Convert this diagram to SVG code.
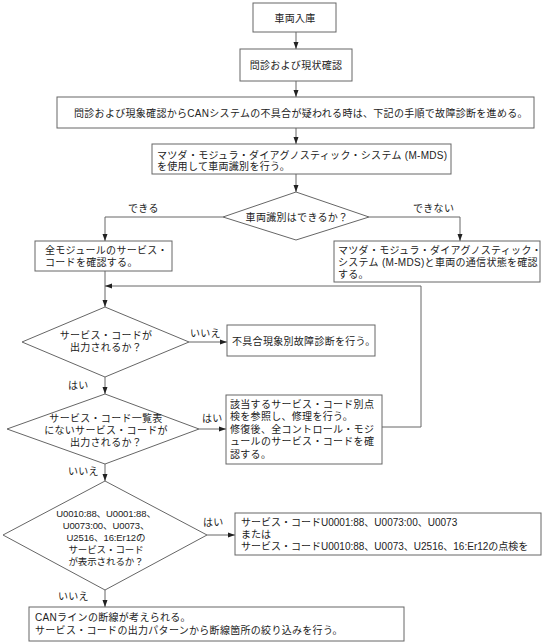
<svg xmlns="http://www.w3.org/2000/svg" width="544" height="644" viewBox="0 0 544 644">
<defs>
<marker id="ah" markerWidth="7" markerHeight="6" refX="7" refY="3" orient="auto" markerUnits="userSpaceOnUse">
<path d="M0,0.5 L7,3 L0,5.5 Z" fill="#222"/>
</marker>
<style>
.box{fill:#fff;stroke:#666;stroke-width:1}
.t{font-family:"Liberation Sans","Noto Sans CJK JP",sans-serif;font-size:10px;fill:#222;letter-spacing:0.3px}
.c{text-anchor:middle}
.n{letter-spacing:0}
.s{font-size:9.5px;letter-spacing:-0.1px}
.ln{fill:none;stroke:#666;stroke-width:1}
.ar{fill:none;stroke:#666;stroke-width:1;marker-end:url(#ah)}
</style>
</defs>
<rect width="544" height="644" fill="#fff"/>
<g id="connectors">
<line class="ar" x1="296" y1="32" x2="296" y2="49"/>
<line class="ar" x1="296" y1="81" x2="296" y2="97"/>
<line class="ar" x1="296" y1="128" x2="296" y2="144"/>
<line class="ar" x1="296" y1="174" x2="296" y2="192"/>
<polyline class="ar" points="223,217 105,217 105,241"/>
<polyline class="ar" points="369,217 460,217 460,241"/>
<line class="ar" x1="105" y1="271" x2="105" y2="307"/>
<polyline class="ar" points="382,427 421,427 421,286 105,286"/>
<line class="ar" x1="189" y1="342" x2="227" y2="342"/>
<line class="ar" x1="105" y1="377" x2="105" y2="394"/>
<line class="ar" x1="199" y1="429" x2="226" y2="429"/>
<line class="ar" x1="105" y1="464" x2="105" y2="481"/>
<line class="ar" x1="207" y1="535" x2="235" y2="535"/>
<line class="ar" x1="105" y1="590" x2="105" y2="607"/>
<text class="t" x="128" y="212">できる</text>
<text class="t" x="413" y="212">できない</text>
<text class="t" x="190" y="337">いいえ</text>
<text class="t" x="68" y="389">はい</text>
<text class="t" x="202" y="422">はい</text>
<text class="t" x="68" y="475">いいえ</text>
<text class="t" x="203" y="526">はい</text>
<text class="t" x="58" y="600">いいえ</text>
</g>
<g id="n1"><rect class="box" x="253" y="3" width="83" height="29"/><text class="t c" x="295" y="22">車両入庫</text></g>
<g id="n2"><rect class="box" x="240" y="49" width="112" height="32"/><text class="t c" x="296" y="69">問診および現状確認</text></g>
<g id="n3"><rect class="box" x="57" y="97" width="477" height="31"/><text class="t" x="74" y="117">問診および現象確認からCANシステムの不具合が疑われる時は、下記の手順で故障診断を進める。</text></g>
<g id="n4"><rect class="box" x="152" y="144" width="299" height="30"/><text class="t" x="157" y="159">マツダ・モジュラ・ダイアグノスティック・システム (M-MDS)</text><text class="t" x="157" y="170">を使用して車両識別を行う。</text></g>
<g id="d1"><polygon class="box" points="296,192 369,217 296,240 223,217"/><text class="t c" x="297" y="221">車両識別はできるか？</text></g>
<g id="n5"><rect class="box" x="35" y="241" width="137" height="30"/><text class="t" x="45" y="254">全モジュールのサービス・</text><text class="t" x="45" y="266">コードを確認する。</text></g>
<g id="n6"><rect class="box" x="334" y="241" width="206" height="41"/><text class="t" x="338" y="254">マツダ・モジュラ・ダイアグノスティック・</text><text class="t" x="338" y="266">システム (M-MDS)と車両の通信状態を確認</text><text class="t" x="338" y="278">する。</text></g>
<g id="d2"><polygon class="box" points="105,307 189,342 105,377 22,342"/><text class="t c" x="106" y="339">サービス・コードが</text><text class="t c" x="106" y="351">出力されるか？</text></g>
<g id="n7"><rect class="box" x="227" y="325" width="148" height="31"/><text class="t" x="232" y="345">不具合現象別故障診断を行う。</text></g>
<g id="d3"><polygon class="box" points="105,394 199,429 105,464 7,429"/><text class="t c" x="106" y="422">サービス・コード一覧表</text><text class="t c" x="106" y="434">にないサービス・コードが</text><text class="t c" x="106" y="446">出力されるか？</text></g>
<g id="n8"><rect class="box" x="226" y="395" width="156" height="69"/><text class="t" x="230" y="408">該当するサービス・コード別点</text><text class="t" x="230" y="420">検を参照し、修理を行う。</text><text class="t" x="230" y="433">修復後、全コントロール・モジ</text><text class="t" x="230" y="445">ュールのサービス・コードを確</text><text class="t" x="230" y="458">認する。</text></g>
<g id="d4"><polygon class="box" points="105,481 207,535 105,590 3,535"/><text class="t c s" x="106" y="517">U0010:88、U0001:88、</text><text class="t c s" x="106" y="529">U0073:00、U0073、</text><text class="t c s" x="106" y="541">U2516、16:Er12の</text><text class="t c s" x="106" y="553">サービス・コード</text><text class="t c s" x="106" y="565">が表示されるか？</text></g>
<g id="n9"><rect class="box" x="235" y="513" width="306" height="42"/><text class="t n" x="241" y="526">サービス・コードU0001:88、U0073:00、U0073</text><text class="t n" x="241" y="538">または</text><text class="t n" x="241" y="550">サービス・コードU0010:88、U0073、U2516、16:Er12の点検を</text></g>
<g id="n10"><rect class="box" x="29" y="607" width="375" height="34"/><text class="t" x="35" y="621">CANラインの断線が考えられる。</text><text class="t" x="35" y="634">サービス・コードの出力パターンから断線箇所の絞り込みを行う。</text></g>
</svg>
